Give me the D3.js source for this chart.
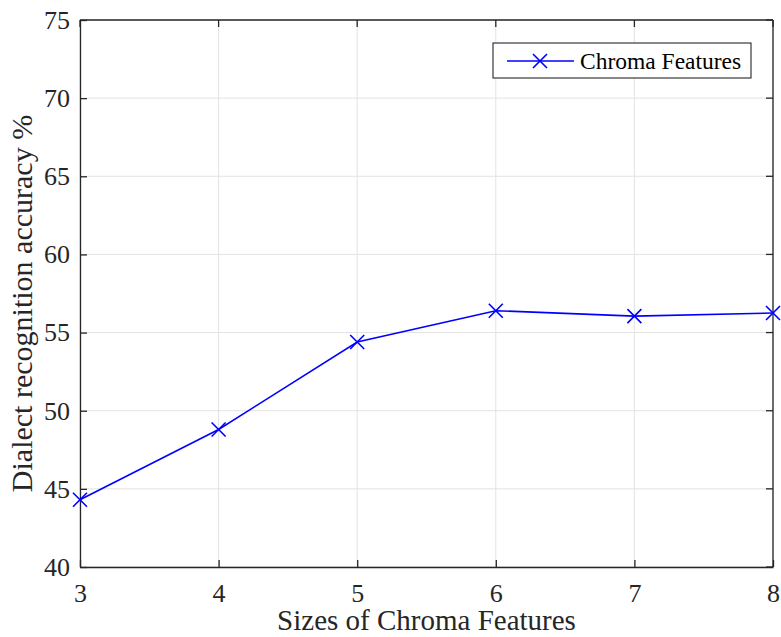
<!DOCTYPE html>
<html>
<head>
<meta charset="utf-8">
<script src="https://cdn.jsdelivr.net/npm/d3@7"></script>
<style>
  body { margin: 0; background: #fff; }
  text { font-family: "Liberation Serif", "Times New Roman", serif; fill: #262626; }
</style>
</head>
<body>
<svg id="chart" width="781" height="637"></svg>
<script>
// data
let featureSizes = [3, 4, 5, 6, 7, 8];
let accuracy = [44.3, 48.8, 54.4, 56.4, 56.05, 56.25];
let xTicks = [3, 4, 5, 6, 7, 8];
let yTicks = [40, 45, 50, 55, 60, 65, 70, 75];
let seriesName = "Chroma Features";

let margin = {left: 80, top: 20, right: 8, bottom: 70};
let width = 781, height = 637;
let gridColor = "#e3e3e3";
let axisColor = "#262626";
let lineColor = "#0000ff";

let svg = d3.select("#chart");

let x = d3.scaleLinear()
  .domain([3, 8])
  .range([margin.left, width - margin.right]);
let y = d3.scaleLinear()
  .domain([40, 75])
  .range([height - margin.bottom, margin.top]);

// grid
svg.append("g").selectAll(".vgrid")
  .data(xTicks)
  .enter()
  .append("line")
  .attr("class", "vgrid")
  .attr("x1", d => x(d))
  .attr("x2", d => x(d))
  .attr("y1", y(40))
  .attr("y2", y(75))
  .attr("stroke", gridColor)
  .attr("stroke-width", 1)
;
svg.append("g").selectAll(".hgrid")
  .data(yTicks)
  .enter()
  .append("line")
  .attr("class", "hgrid")
  .attr("x1", x(3))
  .attr("x2", x(8))
  .attr("y1", d => y(d))
  .attr("y2", d => y(d))
  .attr("stroke", gridColor)
  .attr("stroke-width", 1)
;

// axes (ticks point inward)
let xAxis = d3.axisBottom(x).tickValues(xTicks).tickFormat(d3.format("d"))
  .tickSizeInner(-7).tickSizeOuter(0).tickPadding(17);
let yAxis = d3.axisLeft(y).tickValues(yTicks).tickFormat(d3.format("d"))
  .tickSizeInner(-7).tickSizeOuter(0).tickPadding(10);

let gx = svg.append("g")
  .attr("transform", `translate(0,${y(40)})`)
  .call(xAxis);
let gy = svg.append("g")
  .attr("transform", `translate(${x(3)},0)`)
  .call(yAxis);

[gx, gy].forEach(g => {
  g.select(".domain").attr("stroke", axisColor).attr("stroke-width", 1.3);
  g.selectAll(".tick line").attr("stroke", axisColor).attr("stroke-width", 1.3);
  g.selectAll(".tick text")
    .style("font-family", '"Liberation Serif", "Times New Roman", serif')
    .style("font-size", "26px")
    .attr("fill", axisColor);
});

// box top and right
svg.append("line")
  .attr("x1", x(3)).attr("x2", x(8))
  .attr("y1", y(75)).attr("y2", y(75))
  .attr("stroke", axisColor).attr("stroke-width", 1.3);
svg.append("line")
  .attr("x1", x(8)).attr("x2", x(8))
  .attr("y1", y(40)).attr("y2", y(75))
  .attr("stroke", axisColor).attr("stroke-width", 1.3);
// inward ticks on top and right edges
svg.append("g").selectAll(".ttick")
  .data(xTicks)
  .enter()
  .append("line")
  .attr("x1", d => x(d)).attr("x2", d => x(d))
  .attr("y1", y(75)).attr("y2", y(75) + 7)
  .attr("stroke", axisColor).attr("stroke-width", 1.3);
svg.append("g").selectAll(".rtick")
  .data(yTicks)
  .enter()
  .append("line")
  .attr("x1", x(8)).attr("x2", x(8) - 7)
  .attr("y1", d => y(d)).attr("y2", d => y(d))
  .attr("stroke", axisColor).attr("stroke-width", 1.3);

// series line
let points = featureSizes.map((s, i) => ({x: s, y: accuracy[i]}));
let line = d3.line()
  .x(d => x(d.x))
  .y(d => y(d.y))
  .curve(d3.curveLinear)
;
svg.append("path")
  .datum(points)
  .attr("d", line)
  .attr("fill", "none")
  .attr("stroke", lineColor)
  .attr("stroke-width", 1.6)
;

// x markers
let m = 7;
let markerPath = (cx, cy) => `M${cx - m},${cy - m}L${cx + m},${cy + m}M${cx - m},${cy + m}L${cx + m},${cy - m}`;
svg.append("g").selectAll(".marker")
  .data(points)
  .enter()
  .append("path")
  .attr("class", "marker")
  .attr("d", d => markerPath(x(d.x), y(d.y)))
  .attr("stroke", lineColor)
  .attr("stroke-width", 1.6)
  .attr("fill", "none")
;

// legend
let leg = svg.append("g");
leg.append("rect")
  .attr("x", 493).attr("y", 43)
  .attr("width", 258).attr("height", 35)
  .attr("fill", "#fff")
  .attr("stroke", axisColor)
  .attr("stroke-width", 1.1);
leg.append("line")
  .attr("x1", 507).attr("x2", 574)
  .attr("y1", 61).attr("y2", 61)
  .attr("stroke", lineColor).attr("stroke-width", 1.6);
leg.append("path")
  .attr("d", markerPath(540, 61))
  .attr("stroke", lineColor).attr("stroke-width", 1.6).attr("fill", "none");
leg.append("text")
  .attr("x", 580).attr("y", 69)
  .style("font-size", "23.5px")
  .style("fill", "#000")
  .text(seriesName);

// axis labels
svg.append("text")
  .attr("x", (x(3) + x(8)) / 2)
  .attr("y", 630)
  .attr("text-anchor", "middle")
  .style("font-size", "29px")
  .text("Sizes of Chroma Features");
svg.append("text")
  .attr("transform", `translate(32,${(y(40) + y(75)) / 2 + 10}) rotate(-90)`)
  .attr("text-anchor", "middle")
  .style("font-size", "30px")
  .text("Dialect recognition accuracy %");
</script>
</body>
</html>
